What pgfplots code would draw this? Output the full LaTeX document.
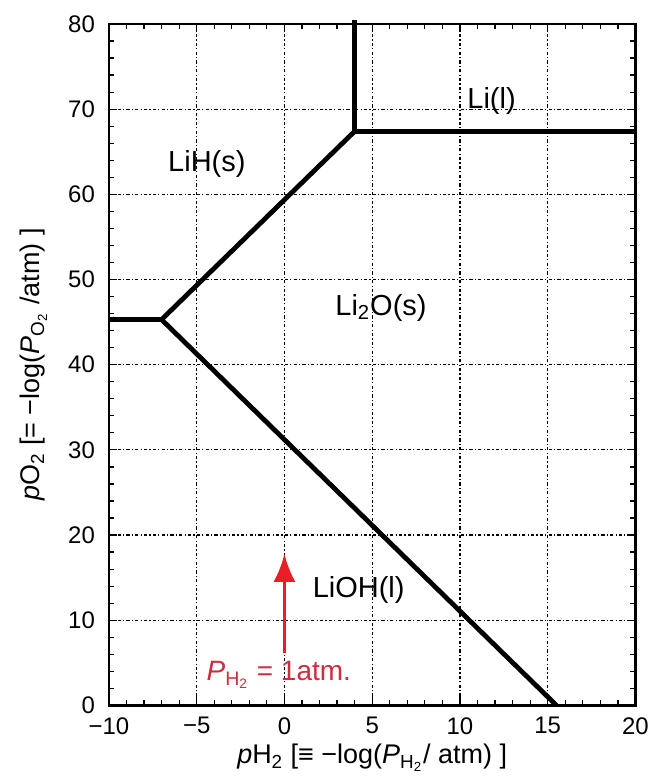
\documentclass[border=0pt]{standalone}
\usepackage{pgfplots}
\pgfplotsset{compat=1.18}
\usetikzlibrary{arrows.meta}
\usepackage{fontspec}
\setmainfont{Liberation Sans}
\definecolor{arrowred}{RGB}{235,30,40}
\definecolor{labelred}{RGB}{205,45,60}
\begin{document}
\begin{tikzpicture}
\begin{axis}[
    scale only axis,
    width=263.5pt, height=341pt,
    xmin=-10, xmax=20, ymin=0, ymax=80,
    xtick={-10,-5,0,5,10,15,20},
    xticklabels={−10,−5,0,5,10,15,20},
    ytick={0,10,...,80},
    minor x tick num=4,
    minor y tick num=4,
    tick align=inside,
    major tick length=4pt,
    minor tick length=2.5pt,
    every tick/.style={black, line width=0.6pt},
    axis line style={line width=1.4pt},
    grid=major,
    major grid style={black, line width=0.6pt, dash pattern=on 1.6pt off 1.1pt on 0.6pt off 1.1pt},
    tick label style={font=\fontsize{12}{14}\selectfont},
    yticklabel style={xshift=-3.5pt},
    xticklabel style={yshift=-2.5pt},
    /pgf/number format/assume math mode=true,
    xlabel={\textit{p}H\textsubscript{2} [≡ −log(\textit{P}\textsubscript{H\textsubscript{2}}/ atm) ]},
    ylabel={\textit{p}O\textsubscript{2} [= −log(\textit{P}\textsubscript{O\textsubscript{2}} /atm) ]},
    every axis x label/.style={at={(axis description cs:0.5,-0.077)}, anchor=center,
        font=\fontsize{13.5}{16}\selectfont},
    every axis y label/.style={at={(axis description cs:-0.143,0.5)}, rotate=90, anchor=center,
        font=\fontsize{13.5}{16}\selectfont},
    clip=false,
]
% phase boundaries
\addplot[black, line width=2.4pt] coordinates {(-10,45.3) (-7.0,45.3)};
\addplot[black, line width=2.4pt] coordinates {(-7.0,45.3) (4.0,67.4)};
\addplot[black, line width=2.4pt] coordinates {(4.0,67.4) (4.0,80.5)};
\addplot[black, line width=2.4pt] coordinates {(4.0,67.4) (20,67.4)};
\addplot[black, line width=2.4pt] coordinates {(-7.0,45.3) (15.5,0)};
% P_H2 = 1 atm arrow
\addplot[arrowred, line width=1.5pt, -{Latex[length=14pt,width=11pt]}] coordinates {(0,6.2) (0,17.8)};
\node[font=\fontsize{14.5}{17}\selectfont] at (axis cs:-4.42,63.6) {LiH(s)};
\node[font=\fontsize{14.5}{17}\selectfont] at (axis cs:11.8,71.0) {Li(l)};
\node[font=\fontsize{14.5}{17}\selectfont] at (axis cs:5.5,46.7) {Li\textsubscript{2}O(s)};
\node[font=\fontsize{14.5}{17}\selectfont] at (axis cs:4.23,13.6) {LiOH(l)};
\node[font=\fontsize{14}{17}\selectfont, text=labelred] at (axis cs:-0.32,3.6) {\textit{P}\textsubscript{H\textsubscript{2}} = 1atm.};
% page margins as in the reference
\path (rel axis cs:0,1) ++(-54.5pt,12pt);
\path (rel axis cs:1,0) ++(8.5pt,-36pt);
\end{axis}
\end{tikzpicture}
\end{document}
